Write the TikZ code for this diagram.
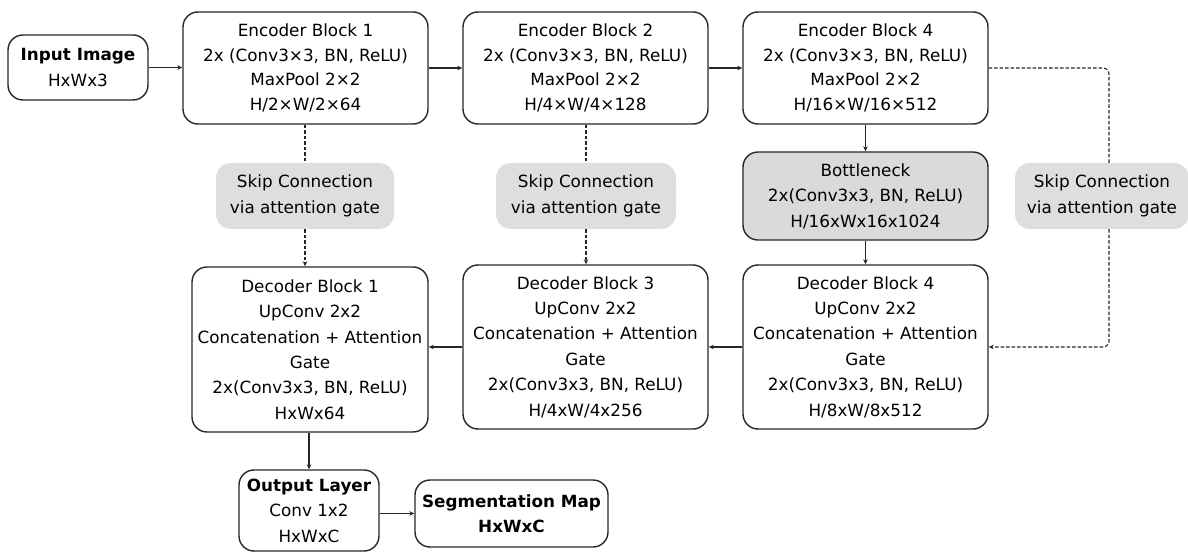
\documentclass[tikz,border=0pt]{standalone}
\usepackage{fontspec}
\setmainfont{DejaVu Sans}
\usetikzlibrary{arrows.meta}
\definecolor{skipgray}{HTML}{DEDEDE}
\definecolor{bngray}{HTML}{DADADA}
\begin{document}
\begin{tikzpicture}[x=1pt,y=-1pt,
  box/.style={draw=black!85, line width=1.4pt, rounded corners=15pt, align=center, inner sep=0pt,
    font=\fontsize{16.8}{25.4}\selectfont},
  encbox/.style={box, minimum width=245pt, minimum height=112pt, font=\fontsize{16.8}{24.5}\selectfont},
  decbox/.style={box, minimum height=164pt},
  skipbox/.style={fill=skipgray, draw=none, rounded corners=15pt, align=center, inner sep=0pt,
    minimum height=66pt, font=\fontsize{16.8}{26.5}\selectfont},
  arr/.style={-{Stealth[length=5pt,width=4.5pt]}, line width=1.1pt, draw=black!85},
  dsh/.style={line width=1.1pt, draw=black!85, dash pattern=on 3.5pt off 2pt}
]
\useasboundingbox (0,0) rectangle (1188,553);

\node[box, minimum width=140pt, minimum height=65pt, font=\fontsize{16.8}{26.5}\selectfont] (in) at (78,67.5) {\textbf{Input Image}\\HxWx3};
\node[encbox] (e1) at (305.5,68) {Encoder Block 1\\2x (Conv3×3, BN, ReLU)\\MaxPool 2×2\\H/2×W/2×64};
\node[encbox] (e2) at (585.5,68) {Encoder Block 2\\2x (Conv3×3, BN, ReLU)\\MaxPool 2×2\\H/4×W/4×128};
\node[encbox] (e4) at (865.5,68) {Encoder Block 4\\2x (Conv3×3, BN, ReLU)\\MaxPool 2×2\\H/16×W/16×512};
\node[box, fill=bngray, minimum width=245pt, minimum height=88pt] (bn) at (865.5,196) {Bottleneck\\2x(Conv3x3, BN, ReLU)\\H/16xWx16x1024};

\node[skipbox, minimum width=178pt] (s1) at (305,196) {Skip Connection\\via attention gate};
\node[skipbox, minimum width=180pt] (s2) at (586,196) {Skip Connection\\via attention gate};
\node[skipbox, minimum width=174pt] (s3) at (1102,196) {Skip Connection\\via attention gate};

\node[decbox, minimum width=245pt] (d4) at (865.5,347) {Decoder Block 4\\UpConv 2x2\\Concatenation + Attention\\Gate\\2x(Conv3x3, BN, ReLU)\\H/8xW/8x512};
\node[decbox, minimum width=245pt] (d3) at (585.5,347) {Decoder Block 3\\UpConv 2x2\\Concatenation + Attention\\Gate\\2x(Conv3x3, BN, ReLU)\\H/4xW/4x256};
\node[decbox, minimum width=236pt, minimum height=165pt] (d1) at (310,349.5) {Decoder Block 1\\UpConv 2x2\\Concatenation + Attention\\Gate\\2x(Conv3x3, BN, ReLU)\\HxWx64};

\node[box, minimum width=140pt, minimum height=81pt] (out) at (309,510.5) {\textbf{Output Layer}\\Conv 1x2\\HxWxC};
\node[box, minimum width=193pt, minimum height=67pt] (seg) at (511.5,513.5) {\textbf{Segmentation Map}\\\textbf{HxWxC}};

\coordinate (c1) at (1109,68);
\coordinate (c2) at (1109,347);

\draw[arr] (in.east) -- (in.east -| e1.west);
\draw[arr] (e1) -- (e2);
\draw[arr] (e2) -- (e4);
\draw[arr] (e4) -- (bn);
\draw[arr] (bn) -- (d4);
\draw[arr] (d4) -- (d3);
\draw[arr] (d3.west) -- (d3.west -| d1.east);
\draw[arr] (d1.south -| out.north) -- (out.north);
\draw[arr] (out.east |- seg.west) -- (seg.west);

\draw[dsh] (e1.south -| s1.north) -- (s1.north);
\draw[dsh, arr, dash pattern=on 3.5pt off 2pt] (s1.south) -- (s1.south |- d1.north);
\draw[dsh] (e2.south -| s2.north) -- (s2.north);
\draw[dsh, arr, dash pattern=on 3.5pt off 2pt] (s2.south) -- (s2.south |- d3.north);

\draw[dsh, rounded corners=6pt] (e4.east) -- (c1) -- (c1 |- s3.north);
\draw[dsh, arr, dash pattern=on 3.5pt off 2pt, rounded corners=6pt] (c1 |- s3.south) -- (c2) -- (d4.east);
\end{tikzpicture}
\end{document}
